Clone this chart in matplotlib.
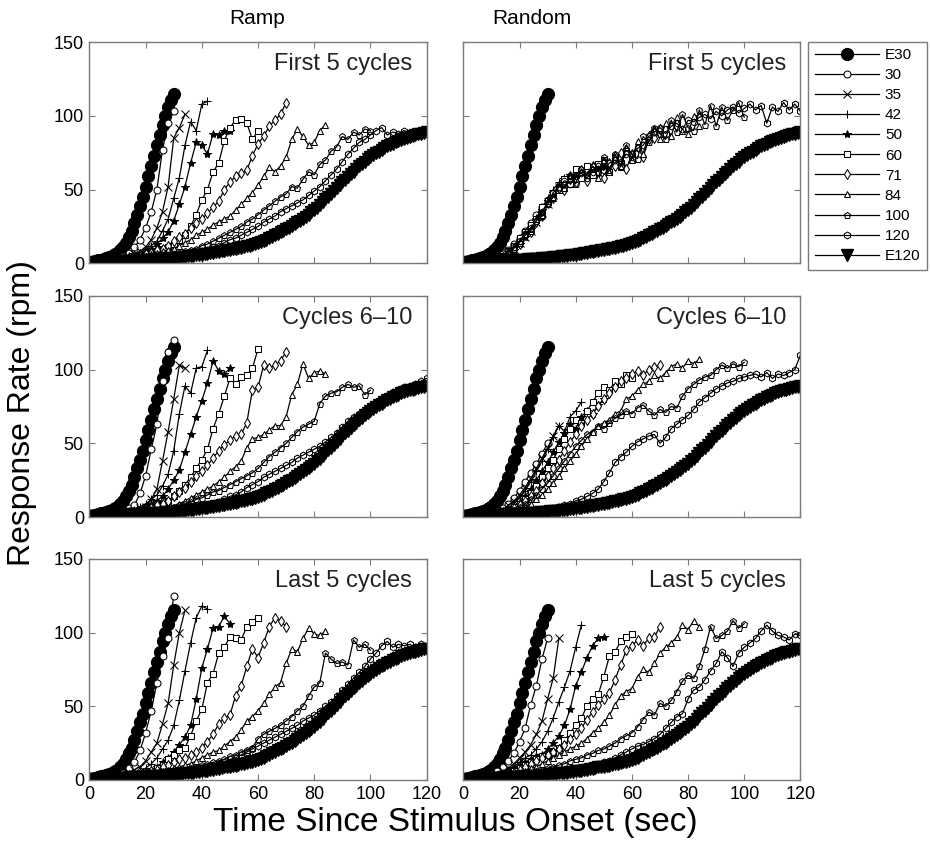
import numpy as np
import matplotlib
matplotlib.use('Agg')
import matplotlib.pyplot as plt

plt.rcParams['font.family'] = ['Liberation Sans', 'DejaVu Sans']

# reinforcement intervals (s) of the nine fixed series, plus two expected curves
intervals = [30, 35, 42, 50, 60, 71, 84, 100, 120]
labels = ['E30'] + [str(i) for i in intervals] + ['E120']

# expected curves, 1-s samples
e30 = [1, 1, 1.5, 2, 2.5, 3, 3.5, 4, 5, 6, 7, 9, 11, 14, 18, 22, 27, 33, 39, 45,
       52, 59, 66, 73, 80, 87, 94, 100, 106, 111, 115]
e120 = [0.5, 0.5, 0.6, 0.7, 0.8, 0.9, 1.0, 1.0, 1.1, 1.2,
        1.3, 1.4, 1.5, 1.6, 1.7, 1.8, 1.9, 2.0, 2.1, 2.2,
        2.3, 2.4, 2.5, 2.6, 2.8, 2.9, 3.0, 3.2, 3.3, 3.5,
        3.6, 3.8, 4.0, 4.2, 4.4, 4.6, 4.8, 5.0, 5.3, 5.5,
        5.8, 6.1, 6.4, 6.7, 7.0, 7.4, 7.7, 8.1, 8.5, 8.9,
        9.0, 9.4, 9.8, 10.2, 10.6, 11.0, 11.5, 12.0, 12.5, 13.0,
        13.5, 14.3, 15.1, 16.0, 17.0, 18.0, 19.0, 20.0, 21.0, 22.0,
        23.0, 24.2, 25.4, 26.6, 27.8, 29.0, 30.3, 31.6, 33.0, 34.5,
        36.0, 37.8, 39.6, 41.4, 43.3, 45.2, 47.1, 49.0, 51.0, 53.0,
        55.0, 56.8, 58.6, 60.4, 62.2, 64.0, 65.7, 67.4, 69.0, 70.5,
        72.0, 73.3, 74.6, 75.8, 77.0, 78.2, 79.3, 80.3, 81.2, 82.1,
        83.0, 83.8, 84.5, 85.2, 85.9, 86.5, 87.0, 87.5, 88.0, 88.5,
        89.0]

# observed response rates, 2-s samples, one list per interval
ramp_first = {
    30: [1, 1, 1, 2, 2, 3, 5, 7, 11, 16, 24, 35, 50, 77, 95, 103],
    35: [1, 1, 1, 1, 2, 2, 3, 4, 6, 8, 11, 16, 24, 35, 52, 85, 92, 101],
    42: [1, 1, 1, 1, 2, 2, 3, 4, 5, 7, 9, 12, 15, 22, 30, 44, 58, 80, 96, 90, 108, 110],
    50: [1, 1, 1, 2, 2, 3, 4, 5, 6, 7, 9, 10, 13, 17, 21, 29, 40, 52, 68, 82, 80, 74, 88, 87, 90, 90],
    60: [1, 1, 1, 1, 2, 2, 3, 3, 4, 5, 6, 7, 8, 10, 11, 13, 16, 19, 25, 33, 43, 50, 62, 68, 83,
         92, 97, 98, 95, 84, 90],
    71: [1, 1, 1, 1, 2, 2, 3, 3, 4, 5, 6, 7, 9, 10, 12, 15, 18, 20, 24, 27, 30, 34, 38, 42, 50,
         55, 59, 61, 63, 73, 81, 86, 93, 97, 101, 109],
    84: [1, 1, 1, 1, 1, 2, 2, 3, 3, 4, 5, 6, 7, 8, 9, 10, 12, 14, 16, 19, 21, 23, 26, 28, 30,
         32, 36, 40, 44, 48, 53, 59, 65, 62, 66, 72, 84, 91, 86, 80, 82, 90, 94],
    100: [1, 1, 1, 1, 1, 1, 2, 2, 2, 3, 3, 3, 4, 4, 5, 6, 7, 8, 9, 10, 12, 13, 15, 17, 19,
          21, 23, 25, 28, 30, 33, 36, 39, 42, 45, 47, 52, 51, 57, 62, 60, 67, 70, 76, 79,
          86, 84, 89, 87, 91, 90],
    120: [1, 1, 1, 1, 1, 1, 2, 2, 2, 2, 3, 3, 3, 3, 4, 4, 5, 5, 6, 7, 8, 9, 11, 12, 14,
          16, 17, 19, 21, 23, 25, 28, 30, 32, 35, 37, 39, 41, 43, 46, 49, 52, 56, 60, 64,
          69, 74, 78, 82, 84, 87, 90, 92, 87, 89, 88, 90, 88, 89, 90, 91],
}
random_first = {
    30: [1, 1, 1, 1, 2, 3, 4, 6, 9, 13, 17, 22, 27, 33, 38, 43],
    35: [1, 1, 1, 2, 2, 2, 3, 5, 7, 10, 14, 18, 22, 28, 34, 40, 46, 52],
    42: [1, 1, 1, 1, 2, 2, 3, 4, 7, 10, 15, 20, 25, 31, 37, 44, 50, 55, 58, 56, 60, 62],
    50: [1, 1, 1, 1, 1, 2, 3, 4, 6, 9, 13, 18, 23, 29, 36, 42, 48, 52, 57, 60, 58, 62, 60, 64, 63, 66],
    60: [1, 1, 1, 1, 2, 2, 3, 5, 8, 12, 17, 21, 26, 30, 38, 42, 48, 50, 57, 54, 64, 58, 66, 60, 67,
         70, 62, 72, 66, 76, 71],
    71: [1, 1, 1, 1, 1, 2, 3, 4, 7, 10, 13, 19, 21, 28, 32, 41, 44, 51, 50, 57, 55, 63, 56, 65, 61,
         58, 68, 66, 75, 64, 74, 79, 72, 84, 85, 91],
    84: [1, 1, 1, 1, 2, 2, 3, 5, 8, 11, 15, 20, 23, 30, 33, 42, 44, 52, 51, 59, 57, 62, 60, 67, 58,
         70, 62, 74, 65, 79, 70, 83, 74, 88, 92, 84, 95, 86, 99, 90, 88, 100, 93],
    100: [1, 1, 1, 1, 1, 2, 3, 4, 7, 10, 14, 19, 22, 29, 32, 40, 45, 52, 51, 60, 54, 64, 60, 66, 62,
          72, 63, 74, 66, 80, 74, 71, 86, 82, 92, 88, 84, 97, 89, 101, 92, 90, 104, 94, 107,
          93, 106, 97, 104, 109, 99],
    120: [1, 1, 1, 1, 2, 2, 3, 5, 8, 11, 15, 20, 24, 29, 35, 41, 48, 52, 56, 54, 59, 61, 58, 62, 66,
          63, 68, 70, 69, 74, 72, 78, 80, 86, 89, 92, 88, 93, 95, 91, 97, 96, 99, 101, 98,
          103, 100, 104, 106, 102, 105, 108, 104, 107, 95, 106, 103, 109, 104, 108, 103],
}
ramp_mid = {
    30: [1, 1, 1, 2, 2, 3, 4, 6, 8, 16, 28, 46, 63, 92, 112, 120],
    35: [1, 1, 1, 1, 2, 2, 3, 4, 5, 6, 7, 12, 19, 38, 58, 80, 103, 101],
    42: [1, 1, 1, 1, 2, 2, 3, 4, 5, 7, 9, 12, 15, 21, 29, 45, 70, 89, 84, 101, 102, 113],
    50: [1, 1, 1, 1, 2, 2, 3, 3, 4, 5, 7, 9, 11, 14, 19, 25, 32, 44, 56, 68, 79, 91, 106, 99, 97, 101],
    60: [1, 1, 1, 1, 1, 2, 2, 3, 3, 4, 5, 6, 7, 9, 11, 14, 18, 22, 27, 33, 39, 46, 60, 70, 82,
         94, 90, 95, 96, 101, 114],
    71: [1, 1, 1, 1, 1, 2, 2, 3, 3, 4, 5, 6, 8, 9, 11, 14, 17, 20, 24, 28, 31, 35, 40, 45, 49,
         52, 55, 56, 64, 86, 88, 103, 101, 103, 106, 112],
    84: [1, 1, 1, 1, 1, 1, 2, 2, 3, 3, 4, 4, 5, 5, 6, 7, 9, 11, 13, 15, 17, 19, 21, 24, 27,
         31, 34, 38, 47, 53, 54, 56, 59, 62, 62, 68, 83, 90, 104, 94, 98, 99, 97],
    100: [1, 1, 1, 1, 1, 1, 2, 2, 2, 3, 3, 4, 4, 5, 6, 7, 8, 9, 10, 12, 13, 15, 17, 18, 20,
          22, 24, 26, 28, 30, 33, 37, 41, 44, 47, 50, 54, 58, 61, 63, 65, 77, 82, 84, 85,
          88, 90, 88, 89, 83, 86],
    120: [1, 1, 1, 1, 1, 1, 1, 2, 2, 2, 2, 3, 3, 3, 4, 4, 5, 5, 6, 7, 7, 8, 9, 10, 12,
          14, 15, 17, 20, 22, 24, 27, 29, 31, 33, 35, 37, 40, 42, 44, 46, 48, 51, 54, 57,
          61, 65, 68, 70, 72, 75, 77, 79, 82, 85, 86, 88, 89, 90, 92, 94],
}
random_mid = {
    30: [1, 1, 1, 1, 2, 3, 4, 6, 9, 13, 18, 24, 30, 36, 43, 50],
    35: [1, 1, 1, 1, 2, 2, 3, 5, 8, 11, 15, 20, 26, 33, 40, 47, 55, 62],
    42: [1, 1, 1, 1, 2, 2, 3, 4, 6, 9, 13, 18, 24, 31, 38, 46, 54, 62, 58, 68, 72, 78],
    50: [1, 1, 1, 1, 1, 2, 3, 4, 5, 7, 10, 14, 19, 25, 31, 37, 44, 51, 57, 63, 60, 68, 72, 70, 76, 80],
    60: [1, 1, 1, 1, 1, 2, 2, 3, 5, 7, 9, 12, 16, 21, 27, 33, 39, 46, 53, 60, 66, 64, 72, 78, 84,
         88, 86, 92, 90, 96, 94],
    71: [1, 1, 1, 1, 1, 2, 2, 3, 4, 6, 8, 11, 14, 18, 23, 28, 33, 39, 45, 51, 56, 62, 66, 70, 75,
         80, 84, 88, 92, 94, 97, 99, 96, 100, 102, 103],
    84: [1, 1, 1, 1, 1, 1, 2, 2, 3, 4, 5, 7, 9, 12, 15, 19, 23, 28, 33, 38, 43, 48, 53, 58, 62,
         64, 66, 70, 72, 80, 82, 86, 90, 92, 96, 94, 98, 102, 104, 101, 106, 104, 107],
    100: [1, 1, 1, 1, 1, 2, 2, 3, 4, 5, 7, 9, 12, 15, 19, 23, 28, 33, 38, 43, 48, 52, 56, 58, 62,
          60, 64, 67, 69, 72, 70, 74, 76, 72, 69, 73, 71, 75, 74, 82, 87, 90, 93, 95, 96,
          100, 103, 101, 104, 102, 105],
    120: [1, 1, 1, 1, 1, 1, 1, 1, 2, 2, 2, 2, 3, 3, 4, 5, 6, 7, 8, 9, 11, 12, 14, 16, 19,
          24, 30, 37, 41, 44, 48, 51, 53, 55, 56, 50, 54, 60, 63, 66, 69, 73, 78, 81, 84,
          87, 89, 91, 92, 94, 95, 96, 97, 95, 98, 94, 97, 96, 98, 100, 110],
}
ramp_last = {
    30: [1, 1, 1, 2, 2, 3, 5, 8, 12, 20, 32, 47, 66, 84, 96, 125],
    35: [1, 1, 1, 1, 2, 3, 4, 5, 7, 9, 13, 19, 25, 38, 52, 78, 100, 115],
    42: [1, 1, 1, 1, 2, 2, 3, 4, 5, 6, 8, 11, 15, 21, 27, 37, 54, 74, 93, 110, 118, 116],
    50: [1, 1, 1, 1, 2, 2, 3, 3, 4, 5, 6, 7, 9, 12, 15, 19, 24, 29, 37, 55, 76, 89, 103, 104, 111, 106],
    60: [1, 1, 1, 1, 1, 2, 2, 3, 3, 4, 5, 6, 8, 10, 14, 17, 20, 22, 30, 40, 48, 66, 72, 86, 90,
         97, 96, 95, 104, 107, 110],
    71: [1, 1, 1, 1, 1, 2, 2, 3, 3, 4, 5, 6, 7, 9, 10, 12, 14, 15, 17, 19, 22, 26, 31, 38, 42,
         44, 57, 64, 77, 89, 83, 93, 104, 110, 108, 104],
    84: [1, 1, 1, 1, 1, 1, 2, 2, 3, 3, 4, 5, 5, 6, 7, 8, 9, 10, 11, 13, 15, 17, 19, 20, 23,
         26, 29, 34, 40, 43, 47, 52, 58, 63, 66, 79, 89, 87, 96, 103, 99, 98, 101],
    100: [1, 1, 1, 1, 1, 1, 2, 2, 2, 3, 3, 4, 4, 5, 5, 6, 7, 7, 8, 9, 10, 11, 12, 13, 14,
          16, 17, 19, 20, 22, 28, 31, 33, 35, 37, 40, 43, 47, 50, 57, 63, 66, 86, 82, 79,
          80, 78, 95, 90, 92, 88],
    120: [1, 1, 1, 1, 1, 1, 1, 2, 2, 2, 2, 3, 3, 3, 4, 4, 4, 5, 5, 6, 7, 8, 9, 11, 12,
          14, 15, 17, 19, 21, 23, 25, 27, 29, 31, 33, 35, 37, 40, 42, 44, 47, 50, 53, 57,
          61, 65, 69, 73, 77, 82, 86, 91, 94, 90, 92, 91, 92, 90, 92, 91],
}
random_last = {
    30: [1, 1, 1, 2, 3, 4, 6, 9, 13, 18, 26, 35, 51, 64, 82, 96],
    35: [1, 1, 1, 1, 2, 3, 4, 6, 8, 11, 15, 19, 24, 31, 40, 55, 69, 96],
    42: [1, 1, 1, 1, 2, 2, 3, 5, 7, 9, 12, 15, 17, 21, 26, 33, 42, 53, 63, 74, 90, 105],
    50: [1, 1, 1, 1, 2, 2, 3, 4, 6, 8, 10, 12, 14, 16, 17, 21, 25, 30, 37, 48, 64, 73, 83, 91, 96, 97],
    60: [1, 1, 1, 1, 1, 2, 2, 3, 4, 6, 8, 10, 12, 14, 16, 17, 19, 22, 27, 32, 37, 42, 50, 55, 58,
         70, 84, 87, 94, 97, 99],
    71: [1, 1, 1, 1, 1, 2, 2, 3, 4, 5, 7, 9, 11, 13, 15, 17, 19, 21, 24, 28, 31, 35, 41, 46, 51,
         55, 59, 68, 78, 88, 91, 95, 91, 96, 97, 104],
    84: [1, 1, 1, 1, 1, 1, 2, 2, 3, 4, 5, 6, 8, 9, 11, 13, 15, 17, 19, 21, 23, 25, 28, 32, 35,
         39, 44, 51, 57, 60, 62, 70, 75, 73, 79, 86, 90, 93, 97, 105, 102, 108, 104],
    100: [1, 1, 1, 1, 1, 1, 1, 2, 2, 3, 3, 4, 5, 6, 7, 8, 9, 10, 11, 13, 14, 15, 17, 18, 20,
          21, 23, 25, 28, 30, 32, 36, 41, 46, 44, 52, 50, 54, 60, 67, 71, 69, 77, 89, 104,
          96, 98, 101, 108, 103, 106],
    120: [1, 1, 1, 1, 1, 1, 1, 1, 2, 2, 2, 3, 3, 3, 4, 4, 5, 5, 6, 7, 7, 8, 9, 10, 11,
          12, 13, 15, 17, 19, 21, 23, 24, 26, 28, 31, 35, 39, 43, 45, 55, 61, 63, 68, 74,
          79, 87, 83, 77, 86, 90, 93, 96, 101, 105, 101, 98, 97, 95, 99, 98],
}

panels = [[ramp_first, random_first], [ramp_mid, random_mid], [ramp_last, random_last]]
row_titles = ['First 5 cycles', 'Cycles 6\u201310', 'Last 5 cycles']
col_titles = ['Ramp', 'Random']

markers = ['o', 'x', '+', '*', 's', 'd', '^', 'p', 'h']
open_markers = ['o', 's', 'd', '^']
frame_grey = '#7a7a7a'

fig = plt.figure(figsize=(9.3, 8.49), dpi=100)
lefts = [0.0962, 0.4982]
bottoms = [0.6899, 0.391, 0.0813]
width, height = 0.3625, 0.2605

handles = None
for r in range(3):
    for c in range(2):
        ax = fig.add_axes([lefts[c], bottoms[r], width, height])
        data = panels[r][c]
        lines = []
        ln, = ax.plot(np.arange(len(e30)), e30, '-', color='black', lw=0.9,
                      marker='o', ms=8.5, mfc='black', mec='black')
        lines.append(ln)
        for iv, mk in zip(intervals, markers):
            vals = data[iv]
            t = np.arange(len(vals)) * 2
            if mk in open_markers:
                face = 'white'
            elif mk in ('p', 'h'):
                face = 'none'
            else:
                face = 'black'
            size = 6 if mk in ('x', '+', '*') else 5
            ln, = ax.plot(t, vals, '-', color='black', lw=0.9, marker=mk,
                          ms=size, mfc=face, mec='black', mew=0.75)
            lines.append(ln)
        ln, = ax.plot(np.arange(len(e120)), e120, '-', color='black', lw=0.9,
                      marker='v', ms=8.5, mfc='black', mec='black')
        lines.append(ln)
        if handles is None:
            handles = lines

        ax.set_xlim(0, 120)
        ax.set_ylim(0, 150)
        ax.set_xticks(range(0, 121, 20))
        ax.set_yticks([0, 50, 100, 150])
        ax.tick_params(direction='in', top=True, right=True, length=4, width=0.8,
                       color=frame_grey, labelsize=13, pad=4)
        if r < 2:
            ax.set_xticklabels([])
        if c == 1:
            ax.set_yticklabels([])
        for sp in ax.spines.values():
            sp.set_color(frame_grey)
            sp.set_linewidth(1.0)
        ax.text(0.957, 0.95, row_titles[r], transform=ax.transAxes,
                ha='right', va='top', fontsize=17, color='#222222')

fig.text(0.277, 0.978, col_titles[0], ha='center', va='center', fontsize=15)
fig.text(0.572, 0.978, col_titles[1], ha='center', va='center', fontsize=15)
fig.text(0.024, 0.513, 'Response Rate (rpm)', rotation=90, ha='center', va='center', fontsize=23)
fig.text(0.49, 0.031, 'Time Since Stimulus Onset (sec)', ha='center', va='center', fontsize=24)

leg = fig.legend(handles, labels, loc='upper left', bbox_to_anchor=(0.869, 0.951),
                 borderaxespad=0, fontsize=11, numpoints=1, handlelength=4.2,
                 handletextpad=0.4, labelspacing=0.4, borderpad=0.42,
                 fancybox=False, framealpha=1)
leg.get_frame().set_edgecolor(frame_grey)
leg.get_frame().set_linewidth(1.0)

fig.savefig('out.png', dpi=100)
